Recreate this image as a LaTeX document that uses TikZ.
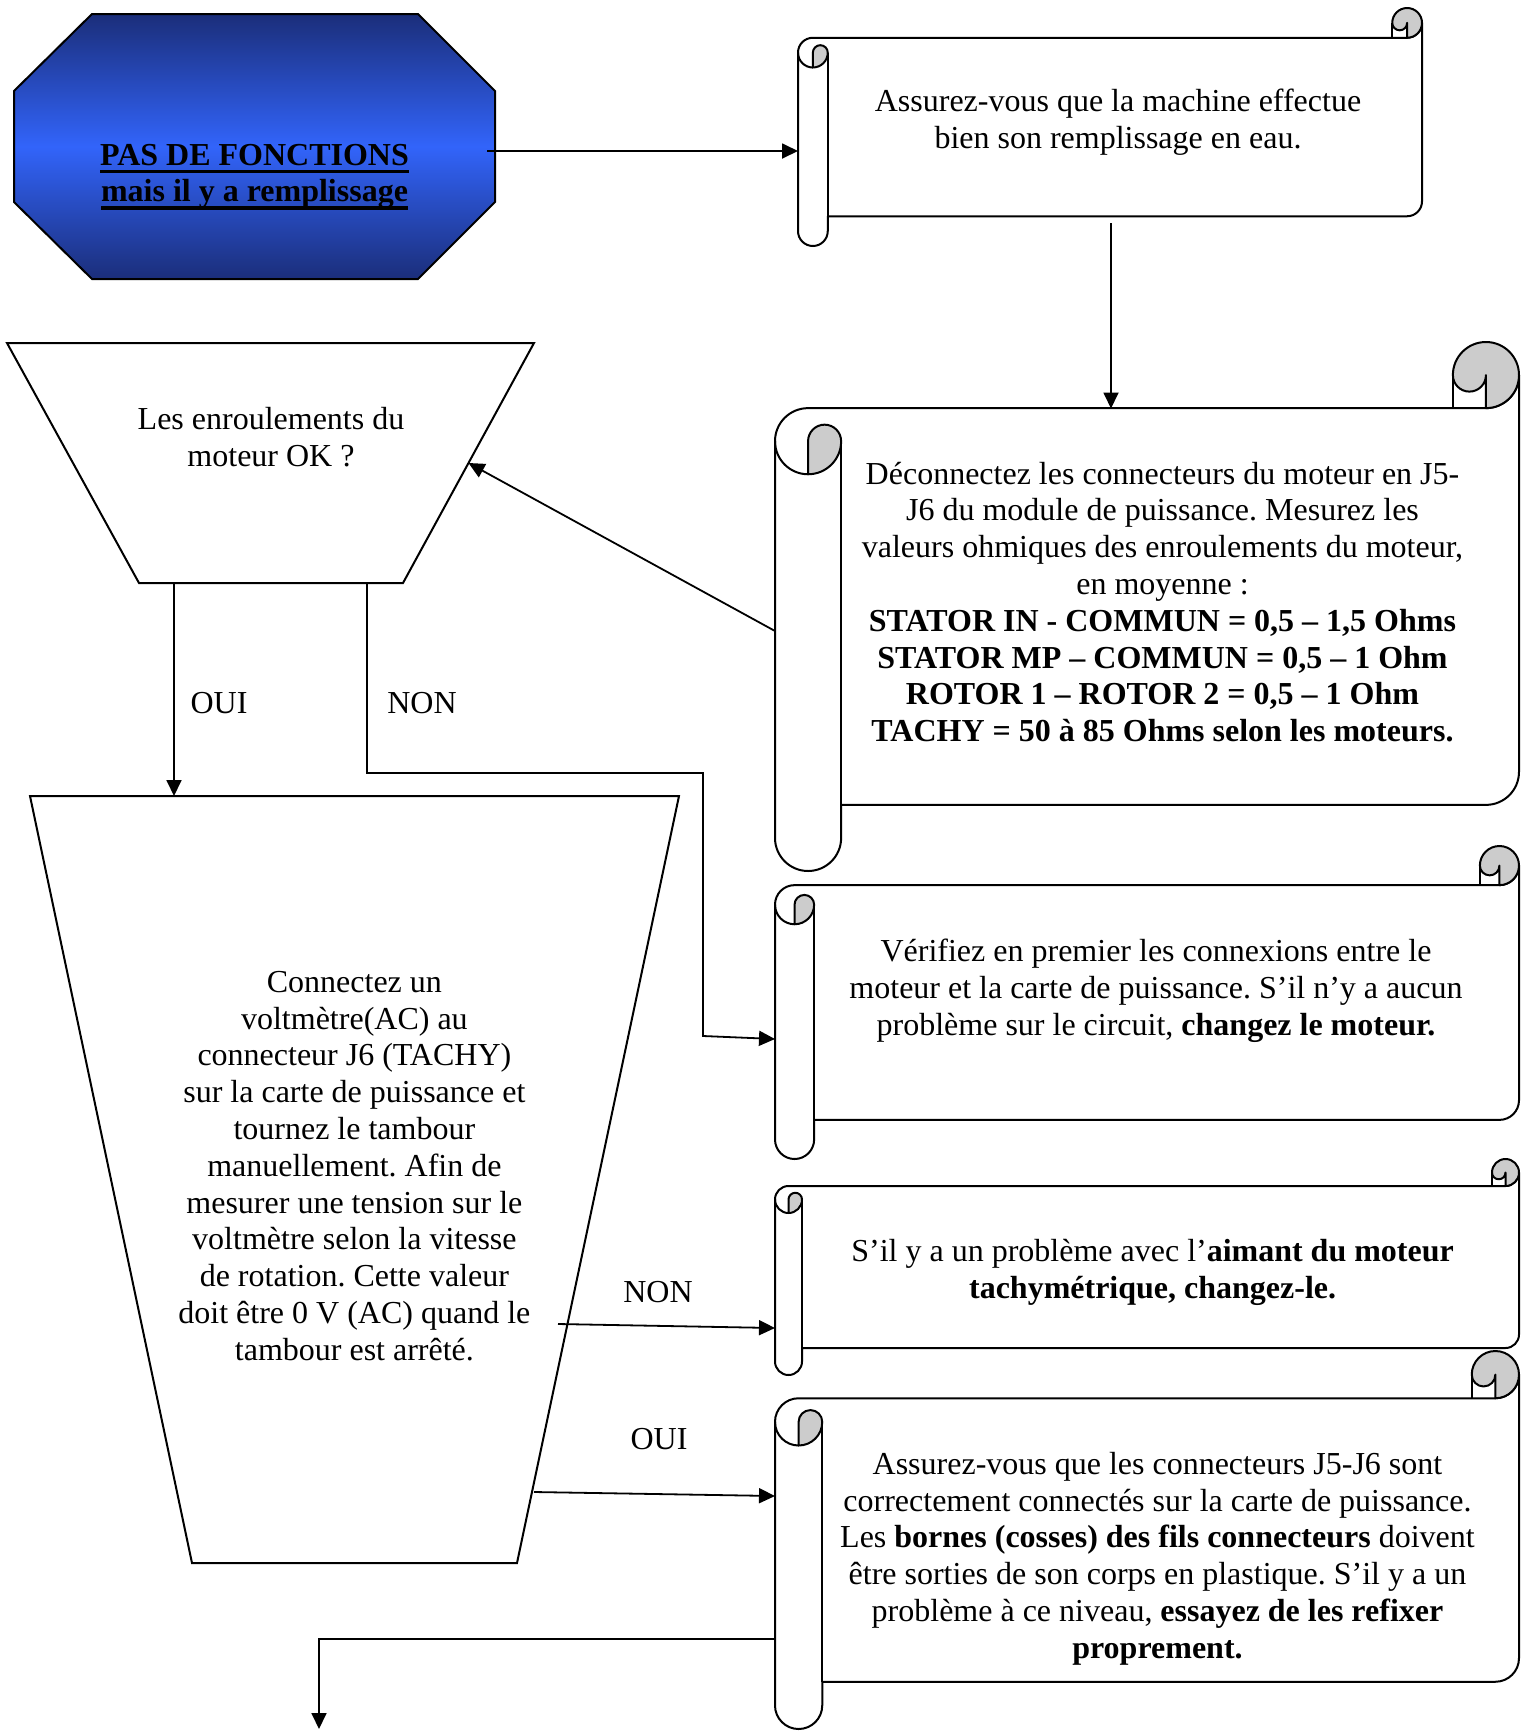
\documentclass[tikz,border=0pt]{standalone}
\usepackage{fontspec}
\setmainfont{Liberation Serif}
\usetikzlibrary{arrows.meta,calc}
\frenchspacing
\definecolor{curl}{RGB}{204,204,204}
\definecolor{octdark}{RGB}{27,46,122}
\definecolor{octlight}{RGB}{50,100,250}
\newcommand\myul[1]{\setbox0\hbox{#1}\rlap{\rule[-3.9pt]{\wd0}{1.6pt}}\box0}
% horizontal scroll: X0, Y0 (top), X1, Y1 (bottom), px, y downwards
\newcommand\hscroll[4]{%
  \pgfmathsetmacro\scCh{(#4-#2)/8}%
  \pgfmathsetmacro\scHh{\scCh/2}%
  \pgfmathsetmacro\scQq{\scCh/4}%
  \pgfmathsetmacro\scXl{#1}%
  \pgfmathsetmacro\scXa{#1+\scHh}%
  \pgfmathsetmacro\scXb{#1+\scCh}%
  \pgfmathsetmacro\scXr{#3}%
  \pgfmathsetmacro\scXc{#3-\scCh}%
  \pgfmathsetmacro\scXd{#3-\scHh}%
  \pgfmathsetmacro\scYc{-(#2+\scHh)}%
  \pgfmathsetmacro\scYb{-(#2+\scCh)}%
  \pgfmathsetmacro\scYt{-(#2+1.5*\scCh)}%
  \pgfmathsetmacro\scYf{-(#2+2*\scCh)}%
  \pgfmathsetmacro\scYs{-(#4-\scCh)}%
  \pgfmathsetmacro\scYS{-(#4-\scHh)}%
  \pgfmathsetmacro\scYF{-(#4-1.5*\scCh)}%
  \draw[scrollline,fill=white] (\scXr,\scYc) -- (\scXr,\scYF)
     arc[start angle=0,end angle=-90,radius=\scHh] -- (\scXb,\scYs) -- (\scXb,\scYS)
     arc[start angle=0,end angle=-180,radius=\scHh] -- (\scXl,\scYt)
     arc[start angle=180,end angle=90,radius=\scHh] -- (\scXd,\scYb)
     arc[start angle=270,end angle=360,radius=\scHh] -- cycle;
  \draw[scrollline] (\scXb,\scYs) -- (\scXb,\scYt);
  \draw[scrollline] (\scXl,\scYt) arc[start angle=180,end angle=270,radius=\scHh];
  \draw[scrollline,fill=curl] (\scXa,\scYf) -- (\scXa,\scYt)
     arc[start angle=180,end angle=0,radius=\scQq]
     arc[start angle=0,end angle=-90,radius=\scHh] -- cycle;
  \draw[scrollline,fill=curl] (\scXd,\scYb)
     arc[start angle=270,end angle=540,radius=\scHh]
     arc[start angle=180,end angle=360,radius=\scQq] -- cycle;
  \draw[scrollline] (\scXc,\scYc) -- (\scXc,\scYb);
}
\begin{document}
\begin{tikzpicture}[x=0.5pt,y=0.5pt,
  shapeline/.style={draw=black,line width=1pt,line join=miter},
  scrollline/.style={draw=black,line width=1pt,line join=round},
  conn/.style={line width=0.9pt,-{Triangle[length=8pt,width=7.5pt]}},
  txt/.style={align=center,inner sep=0pt,font=\fontsize{16}{18.4}\selectfont},
  lbl/.style={inner sep=0pt,font=\fontsize{16}{18.4}\selectfont}]
\useasboundingbox (0,0) rectangle (1529,-1731);

% octagon
\draw[shapeline,top color=octdark,bottom color=octdark,middle color=octlight]
  (92,-14) -- (418,-14) -- (495,-91) -- (495,-202) -- (418,-279) -- (92,-279) -- (14,-202) -- (14,-91) -- cycle;
\node[txt] (oct) at (254.5,-176.7) {\bfseries\myul{PAS DE FONCTIONS}\\\bfseries\myul{mais il y a remplissage}};

% scrolls
\hscroll{798}{8}{1422}{246}
\node[txt] (s1) at (1118,-122.5) {Assurez-vous que la machine effectue\\bien son remplissage en eau.};

\hscroll{775}{342}{1519}{871}
\node[txt] (s2) at (1162.5,-602) {Déconnectez les connecteurs du moteur en J5-\\J6 du module de puissance. Mesurez les\\valeurs ohmiques des enroulements du moteur,\\en moyenne :\\
\textbf{STATOR IN - COMMUN = 0,5 – 1,5 Ohms}\\
\textbf{STATOR MP – COMMUN = 0,5 – 1 Ohm}\\
\textbf{ROTOR 1 – ROTOR 2 = 0,5 – 1 Ohm}\\
\textbf{TACHY = 50 à 85 Ohms selon les moteurs.}};

\hscroll{775}{846}{1519}{1159}
\node[txt] (s3) at (1156,-990.5) {Vérifiez en premier les connexions entre le\\moteur et la carte de puissance. S’il n’y a aucun\\problème sur le circuit, \textbf{changez le moteur.}};

\hscroll{775}{1159}{1519}{1375}
\node[txt] (s4) at (1152.6,-1272) {S’il y a un problème avec l’\textbf{aimant du moteur}\\\textbf{tachymétrique, changez-le.}};

\hscroll{775}{1351}{1519}{1729}
\node[txt] (s5) at (1157.5,-1558.5) {Assurez-vous que les connecteurs J5-J6 sont\\correctement connectés sur la carte de puissance.\\Les \textbf{bornes (cosses) des fils connecteurs} doivent\\être sorties de son corps en plastique. S’il y a un\\problème à ce niveau, \textbf{essayez de les refixer}\\\textbf{proprement.}};

% trapezoid 1
\draw[shapeline] (7,-343) coordinate (t1tl) -- (534,-343) coordinate (t1tr)
  -- (403,-583) coordinate (t1br) -- (139,-583) coordinate (t1bl) -- cycle;
\node[txt] (t1) at (271,-437) {Les enroulements du\\moteur OK ?};

% trapezoid 2
\draw[shapeline] (30,-796) coordinate (t2tl) -- (679,-796) coordinate (t2tr)
  -- (517,-1563) coordinate (t2br) -- (192,-1563) coordinate (t2bl) -- cycle;
\node[txt] (t2) at (354.4,-1166) {Connectez un\\voltmètre(AC) au\\connecteur J6 (TACHY)\\sur la carte de puissance et\\tournez le tambour\\manuellement. Afin de\\mesurer une tension sur le\\voltmètre selon la vitesse\\de rotation. Cette valeur\\doit être 0 V (AC) quand le\\tambour est arrêté.};

% connector end points
\coordinate (octout) at (487,-151);
\coordinate (s1in) at (798,-151);
\coordinate (s1out) at (1111,-223);
\coordinate (s2in) at (1111,-408.5);
\coordinate (s2out) at (775,-631);
\coordinate (t1in) at ($(t1tr)!0.5!(t1br)$);
\coordinate (t1oui) at (174,-583);
\coordinate (t2in) at (174,-796);
\coordinate (t1non) at (367,-583);
\coordinate (nonA) at (367,-773);
\coordinate (nonB) at (703,-773);
\coordinate (nonC) at (703,-1036);
\coordinate (s3in) at (775,-1039);
\coordinate (t2non) at (558,-1324);
\coordinate (s4in) at (775,-1328);
\coordinate (t2oui) at (534,-1492);
\coordinate (s5in) at (775,-1496);
\coordinate (s5out) at (775,-1639);
\coordinate (botA) at (319,-1639);
\coordinate (botB) at (319,-1729);

% connectors
\draw[conn] (octout) -- (s1in);
\draw[conn] (s1out) -- (s2in);
\draw[conn] (s2out) -- (t1in);
\draw[conn] (t1oui) -- (t2in);
\draw[conn] (t1non) -- (nonA) -- (nonB) -- (nonC) -- (s3in);
\draw[conn] (t2non) -- (s4in);
\draw[conn] (t2oui) -- (s5in);
\draw[conn] (s5out) -- (botA) -- (botB);

% labels
\node[lbl] (l1) at (219,-703) {OUI};
\node[lbl] (l2) at (422,-703) {NON};
\node[lbl] (l3) at (658,-1292) {NON};
\node[lbl] (l4) at (659,-1439) {OUI};
\end{tikzpicture}
\end{document}
